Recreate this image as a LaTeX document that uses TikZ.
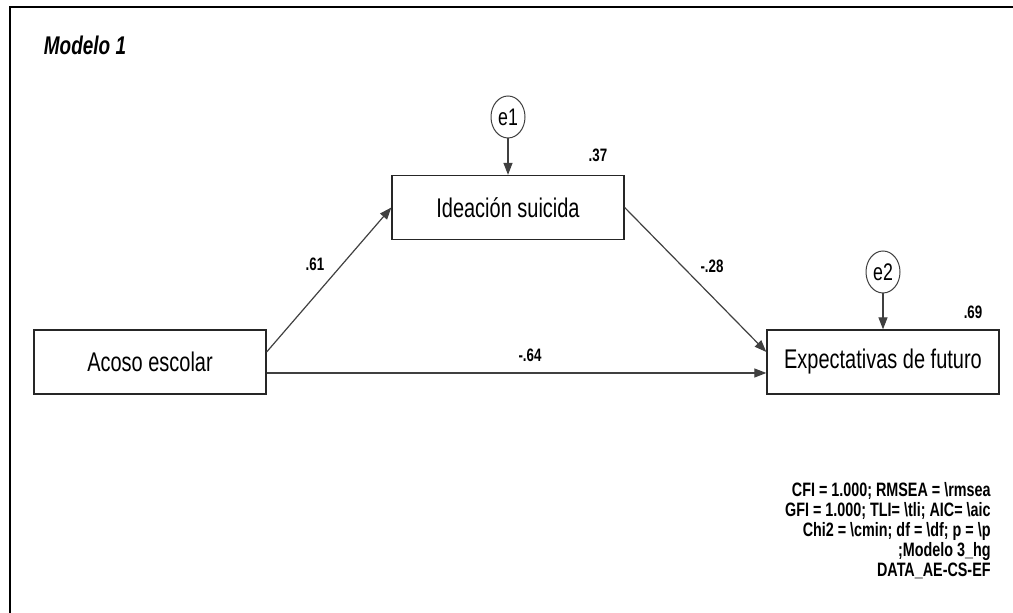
\documentclass[tikz,border=0pt]{standalone}
\usepackage{fontspec}
\setmainfont{Liberation Sans}[FakeStretch=0.74]
\usetikzlibrary{arrows.meta,shapes.geometric}

\tikzset{
  var/.style={draw=black!85, line width=0.65pt, minimum width=116pt, minimum height=32pt, inner sep=0pt, font=\fontsize{13.5}{16}\selectfont},
  err/.style={draw=black!75, ellipse, line width=0.5pt, minimum width=17pt, minimum height=21pt, inner sep=0pt, font=\fontsize{12}{14}\selectfont},
  regr/.style={draw=black!75, line width=0.6pt, -{Triangle[length=6pt,width=4.5pt]}},
  coef/.style={font=\bfseries\fontsize{9}{11}\selectfont, inner sep=0pt}
}

\begin{document}
\begin{tikzpicture}[x=0.5pt,y=-0.5pt]
\useasboundingbox (0,0) rectangle (1013,613);
% frame (only top and left edge show)
\draw [line width=1pt] (10,613) -- (10,7) -- (1013,7);
\node [font=\bfseries\itshape\fontsize{12.8}{14}\selectfont] (title) at (85,45) {Modelo 1};

% observed variables
\node [var] (acoso) at (150,362) {Acoso escolar};
\node [var] (ideacion) at (508,207.5) {Ideación suicida};
\node [var] (expect) at (883,362) {Expectativas de futuro};

% error terms
\node [err] (e1) at (508,117) {e1};
\node [err] (e2) at (883,272) {e2};

% paths
\draw [regr] (e1) -- (ideacion);
\draw [regr] (e2) -- (expect);
\draw [regr] ([yshift=5pt]acoso.east) -- (ideacion.west);
\draw [regr] (ideacion.east) -- ([yshift=5pt]expect.west);
\draw [regr] ([yshift=-5.5pt]acoso.east) -- ([yshift=-5.5pt]expect.west);

% estimates
      \node [coef] (b1) at (315,264) {.61};
      \node [coef] (b2) at (712,266) {-.28};
      \node [coef] (b3) at (530,355) {-.64};
      \node [coef] (r1) at (598,155) {.37};
      \node [coef] (r2) at (973,312) {.69};

% fit indices
\node [coef, align=right, anchor=north east, font=\bfseries\fontsize{9.7}{10}\selectfont] (fit) at (991,482)
  {CFI = 1.000; RMSEA = \textbackslash rmsea\\
   GFI = 1.000; TLI= \textbackslash tli; AIC= \textbackslash aic\\
   Chi2 = \textbackslash cmin; df = \textbackslash df; p = \textbackslash p\\
   ;Modelo 3\_hg\\
   DATA\_AE-CS-EF};
\end{tikzpicture}
\end{document}
